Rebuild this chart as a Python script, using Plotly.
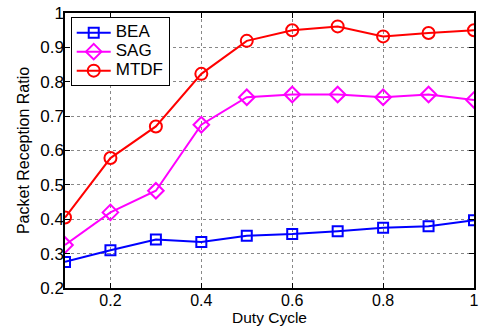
import plotly.graph_objects as go

duty = [0.1, 0.2, 0.3, 0.4, 0.5, 0.6, 0.7, 0.8, 0.9, 1.0]
bea = [0.276, 0.310, 0.341, 0.334, 0.352, 0.357, 0.365, 0.375, 0.380, 0.397]
sag = [0.325, 0.420, 0.483, 0.675, 0.755, 0.763, 0.763, 0.755, 0.763, 0.747]
mtdf = [0.405, 0.578, 0.670, 0.823, 0.919, 0.950, 0.961, 0.932, 0.942, 0.950]

xticks = [0.2, 0.4, 0.6, 0.8, 1.0]
xticklabels = ["0.2", "0.4", "0.6", "0.8", "1"]
yticks = [0.2, 0.3, 0.4, 0.5, 0.6, 0.7, 0.8, 0.9, 1.0]
yticklabels = ["0.2", "0.3", "0.4", "0.5", "0.6", "0.7", "0.8", "0.9", "1"]

fig = go.Figure()
series = [
    ("BEA", bea, "#0000ff", "square-open", 10),
    ("SAG", sag, "#ff00ff", "diamond-open", 12),
    ("MTDF", mtdf, "#ff0000", "circle-open", 12),
]
for name, ys, col, sym, sz in series:
    fig.add_trace(go.Scatter(
        x=duty, y=ys, mode="lines+markers",
        name='<span style="font-size:17px">' + name + '</span>',
        line=dict(color=col, width=2),
        marker=dict(symbol=sym, size=sz, color=col, line=dict(width=2, color=col)),
    ))

axis_common = dict(
    showline=True, linecolor="black", linewidth=1.5, mirror="ticks",
    ticks="inside", ticklen=5, tickcolor="black",
    showgrid=True, gridcolor="#888888", griddash="dot", gridwidth=1,
    zeroline=False, automargin=False,
)
fig.update_xaxes(range=[0.1, 1.0], tickvals=xticks, ticktext=xticklabels,
                 ticklabelstandoff=-3, tickfont=dict(size=16, color="black"),
                 title=dict(text="Duty Cycle", font=dict(size=15.5, color="black"), standoff=0),
                 **axis_common)
fig.update_yaxes(range=[0.2, 1.0], tickvals=yticks, ticktext=yticklabels,
                 ticklabelstandoff=-4, tickfont=dict(size=17, color="black"),
                 title=dict(text="Packet Reception Ratio", font=dict(size=16, color="black"), standoff=7),
                 **axis_common)
fig.update_layout(
    width=486, height=326,
    margin=dict(l=65, r=12, t=13, b=38, autoexpand=False),
    paper_bgcolor="white", plot_bgcolor="white",
    font=dict(family="Liberation Sans, Arial, sans-serif", color="black"),
    legend=dict(x=0.014, y=0.985, xanchor="left", yanchor="top",
                bgcolor="white", bordercolor="black", borderwidth=1,
                font=dict(size=10.5), tracegroupgap=0, itemwidth=34),
    showlegend=True,
)
fig.write_html("out.html")
